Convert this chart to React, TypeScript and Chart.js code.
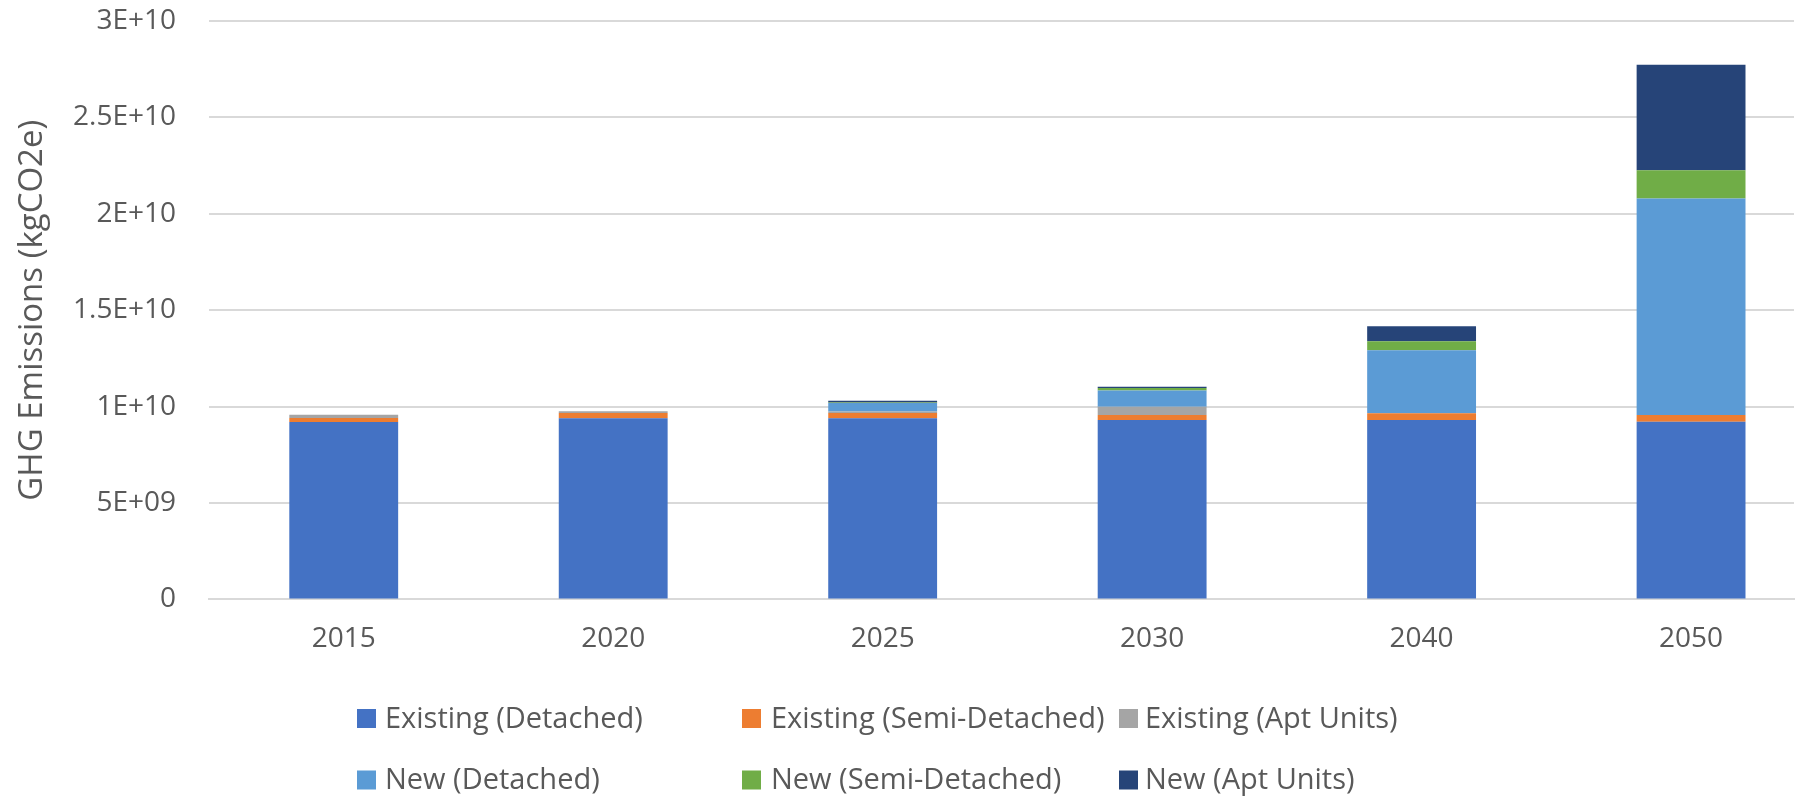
import React, { useEffect, useRef } from "react";
import { Chart, registerables } from "chart.js";

Chart.register(...registerables);

const categories = ["2015", "2020", "2025", "2030", "2040", "2050"];

const existingDetached = [9.2e9, 9.39e9, 9.39e9, 9.3e9, 9.3e9, 9.22e9];
const existingSemi = [0.21e9, 0.28e9, 0.28e9, 0.26e9, 0.35e9, 0.35e9];
const existingApt = [0.17e9, 0.09e9, 0.07e9, 0.43e9, 0, 0];
const newDetached = [0, 0, 0.45e9, 0.85e9, 3.27e9, 11.23e9];
const newSemi = [0, 0, 0.02e9, 0.12e9, 0.47e9, 1.46e9];
const newApt = [0, 0, 0.09e9, 0.07e9, 0.78e9, 5.47e9];

const seriesNames = [
  "Existing (Detached)",
  "Existing (Semi-Detached)",
  "Existing (Apt Units)",
  "New (Detached)",
  "New (Semi-Detached)",
  "New (Apt Units)",
];
const seriesColors = ["#4472C4", "#ED7D31", "#A5A5A5", "#5B9BD5", "#70AD47", "#264478"];

const yTickValues = [0, 5e9, 1e10, 1.5e10, 2e10, 2.5e10, 3e10];

const FONT = "'Open Sans', 'Noto Sans', sans-serif";
const TEXT = "#595959";

function fmtSci(v: number): string {
  if (v === 0) return "0";
  const exp = Math.floor(Math.log10(Math.abs(v)) + 1e-9);
  const mant = +(v / Math.pow(10, exp)).toFixed(2);
  const e = exp < 10 ? "0" + exp : String(exp);
  return `${mant}E+${e}`;
}

const legendPlugin = {
  id: "gridLegend",
  afterDraw(chart: any) {
    const ctx = chart.ctx;
    const boxX = [357, 742, 1119];
    const textX = [385, 771, 1145];
    const rows = [718.5, 780];
    const box = 19;
    ctx.save();
    ctx.font = `29px ${FONT}`;
    ctx.textBaseline = "middle";
    ctx.textAlign = "left";
    chart.data.datasets.forEach((ds: any, i: number) => {
      const c = i % 3;
      const y = rows[Math.floor(i / 3)];
      ctx.fillStyle = ds.backgroundColor;
      ctx.fillRect(boxX[c], y - box / 2, box, box);
      ctx.fillStyle = TEXT;
      ctx.fillText(ds.label, textX[c], y + 1);
    });
    ctx.restore();
  },
};

export default function App() {
  const ref = useRef<HTMLCanvasElement | null>(null);
  useEffect(() => {
    if (!ref.current) return;
    const allSeries = [existingDetached, existingSemi, existingApt, newDetached, newSemi, newApt];
    const chart = new Chart(ref.current, {
      type: "bar",
      data: {
        labels: categories,
        datasets: allSeries.map((d, i) => ({
          label: seriesNames[i],
          data: d,
          backgroundColor: seriesColors[i],
          borderWidth: 0,
          categoryPercentage: 1,
          barPercentage: 0.404,
        })),
      },
      options: {
        animation: false,
        responsive: false,
        maintainAspectRatio: false,
        layout: { padding: { left: 9, right: 23, top: 21, bottom: 141 } },
        plugins: {
          legend: { display: false },
          tooltip: { enabled: false },
        },
        scales: {
          x: {
            stacked: true,
            grid: { display: false, drawTicks: false },
            border: { display: true, color: "#d9d9d9", width: 2 },
            afterFit(scale: any) {
              scale.height = 56.6;
            },
            afterBuildTicks(scale: any) {
              // plot area of the original is narrower than its category band
              scale._valueRange = 5.882;
            },
            ticks: {
              color: TEXT,
              font: { family: FONT, size: 28 },
              padding: 23,
              maxRotation: 0,
            },
          },
          y: {
            stacked: true,
            min: 0,
            max: 3e10,
            afterFit(scale: any) {
              scale.width = 200;
            },
            afterBuildTicks(scale: any) {
              scale.ticks = yTickValues.map((v) => ({ value: v }));
            },
            border: { display: false },
            grid: {
              color: "#d9d9d9",
              lineWidth: 2,
              drawTicks: true,
              tickLength: 33,
              tickColor: "rgba(0,0,0,0)",
            },
            ticks: {
              color: TEXT,
              font: { family: FONT, size: 28 },
              padding: 0,
              callback: (v: any) => fmtSci(Number(v)),
            },
            title: {
              display: true,
              text: "GHG Emissions (kgCO2e)",
              color: TEXT,
              font: { family: FONT, size: 33 },
              padding: { top: 4, bottom: 4 },
            },
          },
        },
      },
      plugins: [legendPlugin],
    });
    return () => chart.destroy();
  }, []);
  return (
    <div style={{ position: "absolute", left: 0, top: 0, width: 1817, height: 797, background: "#fff" }}>
      <canvas ref={ref} width={1817} height={797} style={{ width: 1817, height: 797 }} />
    </div>
  );
}
